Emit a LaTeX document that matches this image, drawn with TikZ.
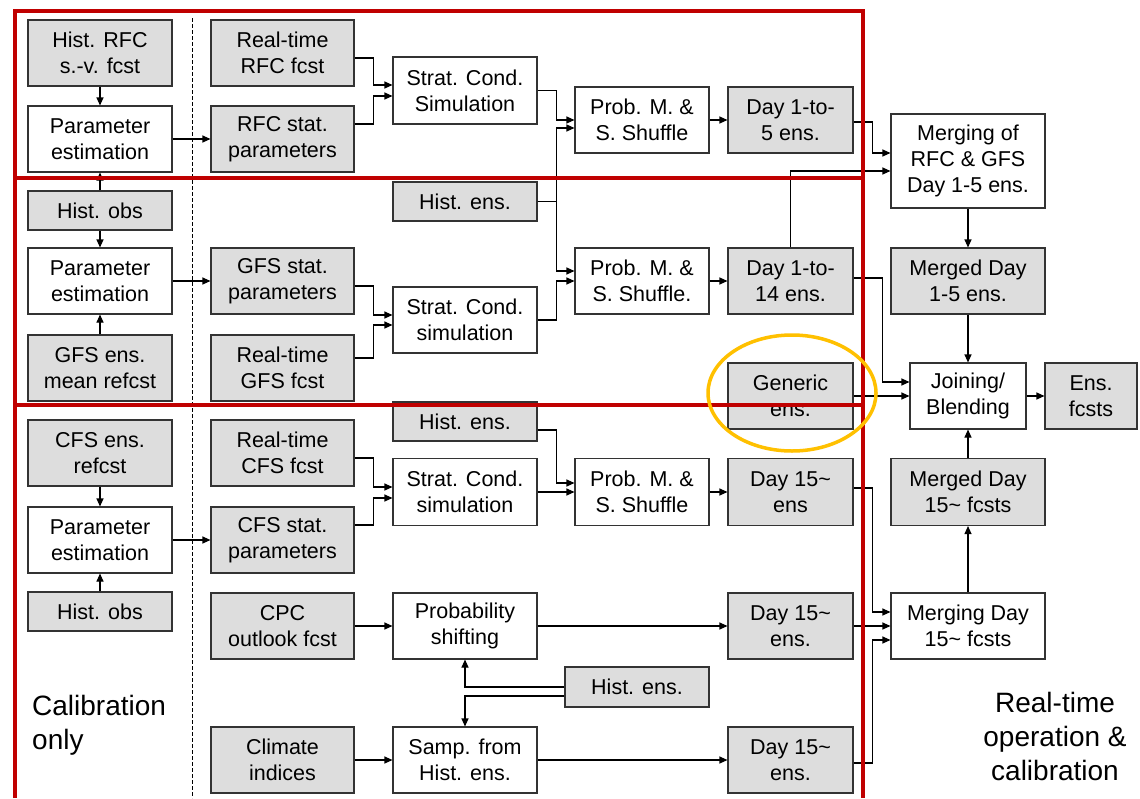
\documentclass[tikz,border=0pt]{standalone}
\usepackage{fontspec}
\setmainfont{Liberation Sans}
\usetikzlibrary{arrows.meta,positioning}
\definecolor{boxgray}{HTML}{DDDDDD}
\definecolor{framered}{HTML}{C00000}
\definecolor{ringgold}{HTML}{FFC000}
\tikzset{
  blk/.style={
    draw=black!80,
    line width=1.1pt,
    align=center,
    inner sep=1pt,
    minimum width=144pt,
    minimum height=66pt,
    font=\fontsize{21.5}{26}\selectfont
  },
  gblk/.style={
    blk,
    fill=boxgray
  },
  wblk/.style={
    blk,
    fill=white
  },
  link/.style={
    line width=1.1pt,
    -{Triangle[length=8pt,width=7pt]}
  },
}
\tikzset{
  redline/.style={
    draw=framered,
    line width=3.8pt
  },
  sepline/.style={
    line width=0.9pt,
    dash pattern=on 3.5pt off 2.5pt
  },
  bigtext/.style={
    inner sep=0pt,
    font=\fontsize{28}{34}\selectfont
  }
}

\begin{document}
\begin{tikzpicture}[x=1pt,y=-1pt]
\useasboundingbox (0,0) rectangle (1140,798);
% calibration column
\node[gblk] (hrfc) at (100,53) {Hist. RFC\\s.-v. fcst};
\node[wblk] (pe1) at (100,139) {Parameter\\estimation};
\node[gblk, minimum height=39pt] (hobs1) at (100,210.5) {Hist. obs};
\node[wblk] (pe2) at (100,281) {Parameter\\estimation};
\node[gblk] (gfsref) at (100,368) {GFS ens.\\mean refcst};
\node[gblk] (cfsref) at (100,453) {CFS ens.\\refcst};
\node[wblk] (pe3) at (100,540) {Parameter\\estimation};
\node[gblk, minimum height=39pt] (hobs2) at (100,611.5) {Hist. obs};
% inputs
\node[gblk, minimum width=143pt] (rtrfc) at (282.5,53) {Real-time\\RFC fcst};
\node[gblk, minimum width=143pt] (rfcsp) at (282.5,139) {RFC stat.\\parameters};
\node[gblk, minimum width=143pt] (gfssp) at (282.5,281) {GFS stat.\\parameters};
\node[gblk, minimum width=143pt] (rtgfs) at (282.5,368) {Real-time\\GFS fcst};
\node[gblk, minimum width=143pt] (rtcfs) at (282.5,453) {Real-time\\CFS fcst};
\node[gblk, minimum width=143pt] (cfssp) at (282.5,540) {CFS stat.\\parameters};
\node[gblk, minimum width=143pt] (cpc) at (282.5,626) {CPC\\outlook fcst};
\node[gblk, minimum width=143pt] (clim) at (282.5,760) {Climate\\indices};
% simulation
\node[wblk, minimum height=67pt] (sc1) at (465,90.5) {Strat. Cond.\\Simulation};
\node[gblk, minimum height=39pt] (he1) at (465,201.5) {Hist. ens.};
\node[wblk] (sc2) at (465,320) {Strat. Cond.\\simulation};
\node[gblk, minimum height=39pt] (he2) at (465,421.5) {Hist. ens.};
\node[wblk, minimum height=67pt] (sc3) at (465,492) {Strat. Cond.\\simulation};
\node[wblk] (ps) at (465,626) {Probability\\shifting};
\node[wblk] (samp) at (465,760) {Samp. from\\Hist. ens.};
\node[wblk, minimum width=134pt] (pm1) at (642,120) {Prob. M. \&\\S. Shuffle};
\node[wblk, minimum width=134pt] (pm2) at (642,281) {Prob. M. \&\\S. Shuffle.};
\node[wblk, minimum width=134pt, minimum height=67pt] (pm3) at (642,492) {Prob. M. \&\\S. Shuffle};
\node[gblk, minimum height=40pt] (he3) at (637,687) {Hist. ens.};
% ensembles
\node[gblk, minimum width=125pt] (d5) at (790.5,120) {Day 1-to-\\5 ens.};
\node[gblk, minimum width=125pt] (d14) at (790.5,281) {Day 1-to-\\14 ens.};
\node[gblk, minimum width=125pt] (gen) at (790.5,396) {Generic\\ens.};
\node[gblk, minimum width=125pt, minimum height=67pt] (d15a) at (790.5,492) {Day 15\textasciitilde\\ens};
\node[gblk, minimum width=125pt] (d15b) at (790.5,626) {Day 15\textasciitilde\\ens.};
\node[gblk, minimum width=125pt] (d15c) at (790.5,760) {Day 15\textasciitilde\\ens.};
% merging and blending
\node[wblk, minimum width=154pt, minimum height=94pt] (mrg) at (968,161) {Merging of\\RFC \& GFS\\Day 1-5 ens.};
\node[gblk, minimum width=154pt] (md5) at (968,281) {Merged Day\\1-5 ens.};
\node[wblk, minimum width=116pt] (jb) at (968,396) {Joining/\\Blending};
\node[gblk, minimum width=92pt] (ens) at (1091,396) {Ens.\\fcsts};
\node[gblk, minimum width=154pt, minimum height=67pt] (m15) at (968,492) {Merged Day\\15\textasciitilde{} fcsts};
\node[wblk, minimum width=154pt] (mg15) at (968,626) {Merging Day\\15\textasciitilde{} fcsts};
\node[bigtext, anchor=west, align=left] (calib) at (32,725) {Calibration\\only};
\node[bigtext, align=center] (rtop) at (1055,736) {Real-time\\operation \&\\calibration};

\draw[link] (hrfc) -- (pe1);
\draw[link] (hobs1) -- (pe1);
\draw[link] (hobs1) -- (pe2);
\draw[link] (gfsref) -- (pe2);
\draw[link] (cfsref) -- (pe3);
\draw[link] (hobs2) -- (pe3);
\draw[link] (pe1) -- (rfcsp);
\draw[link] (pe2) -- (gfssp);
\draw[link] (pe3) -- (cfssp);
\foreach \a/\b/\s/\t in {rtrfc/sc1/-5/5.5, rfcsp/sc1/15/-5.5, gfssp/sc2/-5/5,
                         rtgfs/sc2/10/-5, rtcfs/sc3/-5/5, cfssp/sc3/15/-6}{
  \draw[link] ([yshift=\s pt]\a.east) -- ++(19,0) |- ([yshift=\t pt]\b.west);
}
\draw[link] (sc1.east) -- ++(19,0) |- (pm1.west);
\draw[link] (he1.east) -- ++(19,0) |- ([yshift=-8pt]pm1.west);
\draw[link] (he1.east) -- ++(19,0) |- ([yshift=10pt]pm2.west);
\draw[link] (sc2.east) -- ++(19,0) |- (pm2.west);
\draw[link] ([yshift=-8.5pt]he2.east) -- ++(19,0) |- ([yshift=9pt]pm3.west);
\draw[link] (sc3) -- (pm3);
\draw[link] (pm1) -- (d5);
\draw[link] (pm2) -- (d14);
\draw[link] (pm3) -- (d15a);
\draw[link] (cpc) -- (ps);
\draw[link] (ps) -- (d15b);
\draw[link] (clim) -- (samp);
\draw[link] (samp) -- (d15c);
\draw[link] (he3.west) -| (ps.south);
\draw[link] ([yshift=-9pt]he3.west) -| (samp.north);
\draw[link] ([yshift=-2pt]d5.east) -- ++(19,0) |- ([yshift=8pt]mrg.west);
\draw[link] (d14.north) |- ([yshift=-10pt]mrg.west);
\draw[link] ([yshift=3pt]d14.east) -- ++(29,0) |- ([yshift=14pt]jb.west);
\draw[link] (gen) -- (jb);
\draw[link] (mrg) -- (md5);
\draw[link] (md5) -- (jb);
\draw[link] (jb) -- (ens);
\draw[link] (m15) -- (jb);
\draw[link] (mg15) -- (m15);
\draw[link] ([yshift=4pt]d15a.east) -- ++(19,0) |- ([yshift=14pt]mg15.west);
\draw[link] (d15b) -- (mg15);
\draw[link] ([yshift=-3pt]d15c.east) -- ++(19,0) |- ([yshift=-14pt]mg15.west);

% frames
\draw[sepline] (192,18) -- (192,798);
\draw[redline] (15,798) |- (863,11) -- (863,798);
\draw[redline] (15,178) -- (863,178);
\draw[redline] (15,405) -- (863,405);
\draw[ringgold, line width=3.5pt] (792,393) ellipse [x radius=84, y radius=58];
\end{tikzpicture}
\end{document}
